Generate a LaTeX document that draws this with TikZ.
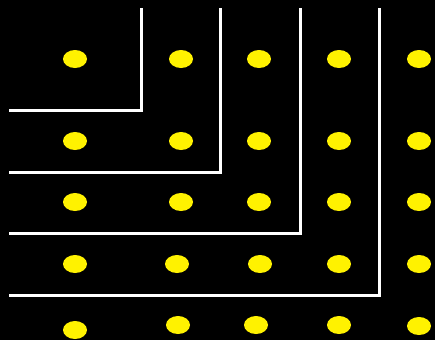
\documentclass[tikz,border=0pt]{standalone}
\usetikzlibrary{shapes.geometric}
\begin{document}
\begin{tikzpicture}[x=1pt,y=-1pt,
  dot/.style={ellipse,fill=yellow,draw=none,minimum width=24pt,minimum height=18pt,inner sep=0pt},
  wall/.style={draw=white,line width=3pt}]
\fill[black] (0,0) rectangle (435,340);
\useasboundingbox (0,0) rectangle (435,340);
% row 1
\node[dot] (a1) at (75,59) {};
\node[dot] (a2) at (181,59) {};
\node[dot] (a3) at (259,59) {};
\node[dot] (a4) at (339,59) {};
\node[dot] (a5) at (419,59) {};
% row 2
\node[dot] (b1) at (75,141) {};
\node[dot] (b2) at (181,141) {};
\node[dot] (b3) at (259,141) {};
\node[dot] (b4) at (339,141) {};
\node[dot] (b5) at (419,141) {};
% row 3
\node[dot] (c1) at (75,202) {};
\node[dot] (c2) at (181,202) {};
\node[dot] (c3) at (259,202) {};
\node[dot] (c4) at (339,202) {};
\node[dot] (c5) at (419,202) {};
% row 4
\node[dot] (d1) at (75,264) {};
\node[dot] (d2) at (177,264) {};
\node[dot] (d3) at (260,264) {};
\node[dot] (d4) at (339,264) {};
\node[dot] (d5) at (419,264) {};
% row 5
\node[dot] (e1) at (75,330) {};
\node[dot] (e2) at (178,325) {};
\node[dot] (e3) at (256,325) {};
\node[dot] (e4) at (339,325) {};
\node[dot] (e5) at (419,326) {};
% L-shaped walls
\draw[wall] (141,8) -- (141,110) -- (9,110);
\draw[wall] (220,8) -- (220,172) -- (9,172);
\draw[wall] (300,8) -- (300,233) -- (9,233);
\draw[wall] (379,8) -- (379,295) -- (9,295);
\end{tikzpicture}
\end{document}
